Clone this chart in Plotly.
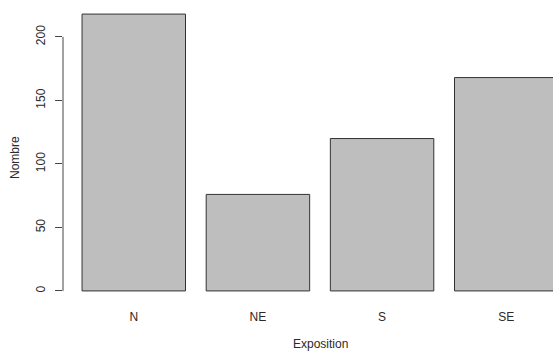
import plotly.graph_objects as go

categories = ["N", "NE", "S", "SE"]
counts = [218, 76, 120, 168]
y_ticks = [0, 50, 100, 150, 200]
x_label = "Exposition"
y_label = "Nombre"

# R barplot geometry: width 1, space 0.2
bar_w = 1.0
space = 0.2
centers = [space + bar_w / 2 + i * (bar_w + space) for i in range(len(categories))]
left = space
right = centers[-1] + bar_w / 2
xpad = 0.04 * (right - left)
ymax = max(counts)
ypad = 0.04 * ymax

FONT = "Liberation Sans, Arial, sans-serif"
TXT = "#2a2a2a"

fig = go.Figure(
    go.Bar(
        x=centers,
        y=counts,
        width=bar_w,
        marker=dict(color="#BEBEBE", line=dict(color="#333333", width=1)),
        hoverinfo="skip",
    )
)

fig.update_layout(
    width=553,
    height=351,
    margin=dict(l=63, r=0, t=3, b=49, autoexpand=False),
    plot_bgcolor="white",
    paper_bgcolor="white",
    showlegend=False,
    font=dict(family=FONT, size=12, color=TXT),
    xaxis=dict(
        range=[left - xpad, 4.752],
        tickmode="array",
        tickvals=centers,
        ticktext=categories,
        showgrid=False,
        zeroline=False,
        showline=False,
        ticks="",
        automargin=False,
        ticklabelstandoff=6,
        tickfont=dict(family=FONT, size=12, color=TXT),
    ),
    yaxis=dict(
        range=[-ypad, ymax + ypad],
        tickmode="array",
        tickvals=y_ticks,
        ticktext=[str(v) for v in y_ticks],
        tickangle=-90,
        showgrid=False,
        zeroline=False,
        showline=False,
        ticks="outside",
        ticklen=7,
        tickwidth=1,
        tickcolor="#444444",
        automargin=False,
        ticklabelstandoff=5,
        tickfont=dict(family=FONT, size=12, color=TXT),
    ),
    shapes=[
        dict(
            type="line",
            xref="paper",
            yref="y",
            x0=0,
            x1=0,
            y0=min(y_ticks),
            y1=max(y_ticks),
            line=dict(color="#444444", width=1),
        )
    ],
    annotations=[
        dict(
            text=x_label,
            xref="x",
            yref="paper",
            x=(left + right) / 2,
            y=-0.142,
            yanchor="middle",
            xanchor="center",
            showarrow=False,
            font=dict(family=FONT, size=12, color=TXT),
        ),
        dict(
            text=y_label,
            xref="paper",
            yref="paper",
            x=-0.098,
            y=0.485,
            xanchor="center",
            yanchor="middle",
            textangle=-90,
            showarrow=False,
            font=dict(family=FONT, size=12, color=TXT),
        ),
    ],
)

fig.write_html(
    "out.html",
    config={"displayModeBar": False, "staticPlot": True},
    post_script="document.body.style.margin='0';document.body.style.overflow='hidden';",
)
